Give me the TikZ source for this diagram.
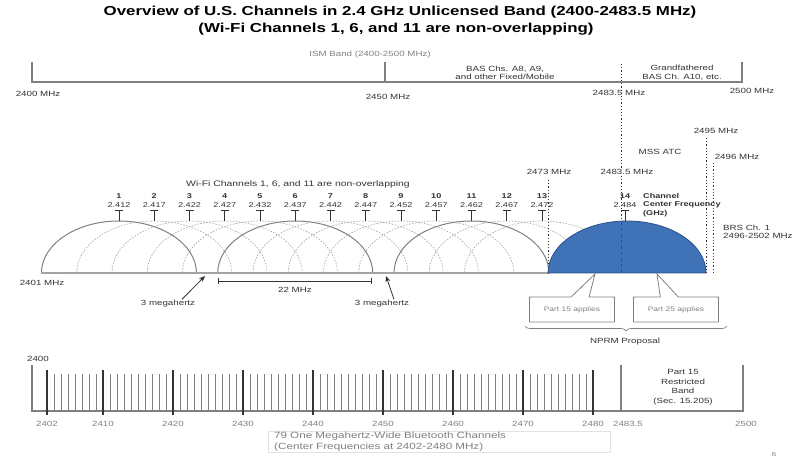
\documentclass[tikz,border=0pt]{standalone}
\usepackage{fontspec}
\setmainfont{Liberation Sans}[FakeStretch=1.3]
\usetikzlibrary{arrows.meta,positioning,shapes.callouts,decorations.pathreplacing}
\definecolor{ink}{HTML}{333333}
\definecolor{mid}{HTML}{808080}
\definecolor{pale}{HTML}{A3A3A3}
\definecolor{faint}{HTML}{E2E2E2}
\definecolor{chfill}{HTML}{3F72B6}
\definecolor{chedge}{HTML}{29508A}
\tikzset{
  ttl/.style={font=\fontsize{13}{15}\selectfont\bfseries, inner sep=0pt},
  lbl/.style={font=\fontsize{7.5}{8.5}\selectfont, text=ink, inner sep=1pt},
  glbl/.style={lbl, text=mid},
  chnum/.style={font=\fontsize{7}{8}\selectfont\bfseries, text=ink, inner sep=0pt},
  chfq/.style={font=\fontsize{7}{8}\selectfont, text=ink, inner sep=0pt},
  band/.style={mid, line width=1.4pt},
  base/.style={pale, line width=2.4pt},
  chsol/.style={mid, line width=1pt},
  chdot/.style={pale, line width=0.6pt, dash pattern=on 1.6pt off 1.4pt},
  tee/.style={ink, line width=1pt},
  vmark/.style={ink, line width=0.7pt, dash pattern=on 1.2pt off 2pt},
  ptr/.style={-{Stealth[length=6pt,width=5pt]}, ink, line width=0.8pt},
  dimln/.style={{Bar[width=6pt]}-{Bar[width=6pt]}, ink, line width=0.9pt},
  callbox/.style={rectangle callout, draw=mid, fill=white, line width=0.8pt,
    minimum width=85pt, minimum height=25pt, callout pointer width=18pt,
    font=\fontsize{6.5}{7.5}\selectfont, text=mid},
  npbrace/.style={decorate, decoration={brace, amplitude=5pt}, mid, line width=0.7pt},
  btaxis/.style={mid, line width=1.4pt},
  btthin/.style={mid, line width=0.9pt},
  btbold/.style={ink, line width=1.5pt},
}
\newcommand{\WiF}[2]{({119+((#1)-2412)*7.05},{#2})}
\newcommand{\BT}[2]{({47+((#1)-2402)*7.0},{#2})}

\begin{document}
\begin{tikzpicture}[x=1pt, y=-1pt]
  \useasboundingbox (0,0) rectangle (804,457);
  % title
  \node[ttl] (ttl1) at (400,12) {Overview of U.S. Channels in 2.4 GHz Unlicensed Band (2400-2483.5 MHz)};
  \node[ttl] (ttl2) at (396,29) {(Wi-Fi Channels 1, 6, and 11 are non-overlapping)};

  % top band
  \draw[band] (32,62) -- (32,82) -- (742,82) -- (742,62);
  \draw[band] (385,62) -- (385,82);
  \draw[vmark] (621,64) -- (621,273);
  \node[glbl] (ism) at (370,55) {ISM Band (2400-2500 MHz)};
  \node[lbl, align=center] (bas) at (505,73) {BAS Chs. A8, A9,\\and other Fixed/Mobile};
  \node[lbl, align=center] (gf) at (682,73) {Grandfathered\\BAS Ch. A10, etc.};
  \node[lbl] (f2400) at (38,94) {2400 MHz};
  \node[lbl] (f2450) at (388,97) {2450 MHz};
  \node[lbl] (f2483) at (619,93) {2483.5 MHz};
  \node[lbl] (f2500) at (752,91) {2500 MHz};

  % wi-fi channels
  \foreach \c in {2,3,4,5,7,8,9,10,12,13}{
    \pgfmathtruncatemacro\fq{2407+5*\c}
    \draw[chdot] \WiF{\fq-11}{273} arc[start angle=180, end angle=0, x radius=77.5pt, y radius=52pt];}
  \foreach \c in {1,6,11}{
    \pgfmathtruncatemacro\fq{2407+5*\c}
    \draw[chsol] \WiF{\fq-11}{273} arc[start angle=180, end angle=0, x radius=77.5pt, y radius=52pt];}
  \draw[base] (41,273) -- (548,273);
  \foreach \c in {1,...,13}{
    \pgfmathtruncatemacro\fq{2407+5*\c}
    \pgfmathtruncatemacro\fk{407+5*\c}
    \node[chnum] (ch\c) at \WiF{\fq}{196} {\c};
    \node[chfq] (cf\c) at \WiF{\fq}{205} {2.\fk};
    \draw[tee] \WiF{\fq}{221} -- ++(0,-10) ++(-4,0) -- ++(8,0);}
  \node[lbl, font=\fontsize{8}{9}\selectfont] (nonov) at (298,184) {Wi-Fi Channels 1, 6, and 11 are non-overlapping};
  \node[lbl] (f2401) at (42,283) {2401 MHz};

  % channel 14
  \draw[vmark] (548,180) -- (548,273);
  \fill[chfill, draw=chedge, line width=0.8pt] (548,273) arc[start angle=180, end angle=0, x radius=79pt, y radius=52pt] -- cycle;
  \draw[chedge, dashed, line width=0.9pt] (621,222) -- (621,273);
  \node[chnum] (ch14) at (625,196) {14};
  \node[chfq] (cf14) at (625,205) {2.484};
  \draw[tee] (625,221) -- ++(0,-10) ++(-4,0) -- ++(8,0);
  \node[chnum, anchor=west, align=left, font=\fontsize{7}{8.5}\selectfont\bfseries] (cfreq) at (643,205) {Channel\\Center Frequency\\(GHz)};
  \node[lbl] (f2473) at (549,172) {2473 MHz};
  \node[lbl, fill=white] (f2483b) at (627,172) {2483.5 MHz};
  \node[lbl] (mss) at (660,152) {MSS ATC};
  \draw[vmark] (706,138) -- (706,273);
  \draw[vmark] (713,163) -- (713,273);
  \node[lbl] (f2495) at (716,131) {2495 MHz};
  \node[lbl] (f2496) at (737,157) {2496 MHz};
  \node[lbl, anchor=west, align=left] (brs) at (722,232) {BRS Ch. 1\\2496-2502 MHz};

  % spacing marks
  \coordinate (d1) at (218,281);
  \coordinate (d2) at (372,281);
  \draw[dimln] (d1) -- (d2);
  \node[lbl] (w22) at (295,290) {22 MHz};
  \coordinate (gapa) at (205,276);
  \coordinate (gapb) at (386,276);
  \node[lbl] (mhz3a) at (168,304) {3 megahertz};
  \node[lbl] (mhz3b) at (382,304) {3 megahertz};
  \draw[ptr] ([xshift=14pt]mhz3a.north) -- (gapa);
  \draw[ptr] ([xshift=12pt]mhz3b.north) -- (gapb);

  % rule parts
  \coordinate (hit15) at (595,274);
  \coordinate (hit25) at (657,274);
  \node[callbox, callout absolute pointer={(hit15)}] (p15) at (572,309.5) {Part 15 applies};
  \node[callbox, callout absolute pointer={(hit25)}] (p25) at (676,309.5) {Part 25 applies};
  \draw[npbrace] (727,326) -- (525,326);
  \node[lbl] (nprm) at (625,342) {NPRM Proposal};

  % bluetooth channels
  \draw[btaxis] (32,365) -- (32,411) -- (743,411) -- (743,365);
  \draw[btaxis] (621,365) -- (621,411);
  \foreach \f in {2402,...,2480}
    \draw[btthin] \BT{\f}{374} -- \BT{\f}{411};
  \foreach \f in {2402,2410,2420,2430,2440,2450,2460,2470,2480}{
    \draw[btbold] \BT{\f}{370} -- \BT{\f}{415};
    \node[glbl] (bn\f) at \BT{\f}{424} {\f};}
  \node[lbl] (b2400) at (38,359) {2400};
  \node[glbl] (b2483) at (628,424) {2483.5};
  \node[glbl] (b2500) at (746,424) {2500};
  \node[lbl, align=center, font=\fontsize{7.5}{9.5}\selectfont] (restr) at (683,387) {Part 15\\Restricted\\Band\\(Sec. 15.205)};
  \node[glbl, draw=faint, anchor=north west, align=left, minimum width=342pt, text width=330pt, font=\fontsize{9}{11}\selectfont] (btnote) at (268,431) {79 One Megahertz-Wide Bluetooth Channels\\(Center Frequencies at 2402-2480 MHz)};
  \node[glbl, font=\fontsize{6}{7}\selectfont] (pgno) at (774,454) {6};
\end{tikzpicture}
\end{document}
